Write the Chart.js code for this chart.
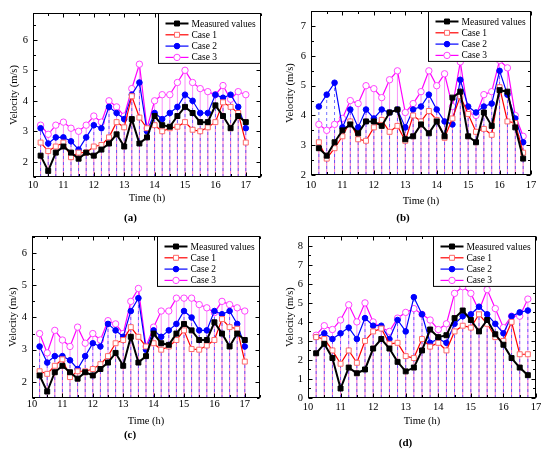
<!DOCTYPE html>
<html><head><meta charset="utf-8">
<script src="https://cdn.jsdelivr.net/npm/chart.js@4.4.0/dist/chart.umd.min.js"></script>
<style>
html,body{margin:0;padding:0;background:#fff;}
#wrap{position:relative;width:550px;height:450px;overflow:hidden;}
canvas{position:absolute;}
</style></head><body>
<div id="wrap">
<canvas id="ca" width="275" height="225" style="left:0;top:0"></canvas>
<canvas id="cb" width="275" height="225" style="left:275px;top:0"></canvas>
<canvas id="cc" width="275" height="225" style="left:0;top:225px"></canvas>
<canvas id="cd" width="275" height="225" style="left:275px;top:225px"></canvas>
</div>
<script>
// ---------- DATA ----------
const seriesNames = ['Measured values', 'Case 1', 'Case 2', 'Case 3'];
const captions = ['(a)', '(b)', '(c)', '(d)'];
const xTitle = 'Time (h)';
const yTitle = 'Velocity (m/s)';

const timeLong  = [10.25,10.5,10.75,11,11.25,11.5,11.75,12,12.25,12.5,12.75,13,13.25,13.5,13.75,14,14.25,14.5,14.75,15,15.25,15.5,15.75,16,16.25,16.5,16.75,17];
const timeShort = [10.25,10.5,10.75,11,11.25,11.5,11.75,12,12.25,12.5,12.75,13,13.25,13.5,13.75,14,14.25,14.5,14.75,15,15.25,15.5,15.75,16,16.25,16.5,16.75];

const measuredA = [2.2,1.7,2.3,2.5,2.3,2.1,2.3,2.2,2.4,2.6,2.9,2.5,3.4,2.6,2.8,3.5,3.2,3.15,3.5,3.8,3.6,3.3,3.3,3.85,3.5,3.1,3.5,3.3];
const case1A    = [2.63,2.35,2.5,2.63,2.15,2.3,2.3,2.5,2.55,2.8,3.3,3.13,4.15,3.45,3.1,3.2,3.0,3.1,3.15,3.3,3.05,3.0,3.13,3.3,3.95,3.8,3.6,2.63];
const case2A    = [3.1,2.6,2.8,2.8,2.67,2.4,2.8,3.2,3.1,3.8,3.6,3.4,4.2,4.6,3.0,3.6,3.4,3.6,3.8,4.2,4.0,3.6,3.6,4.2,4.1,4.2,3.8,3.1];
const case3A    = [3.2,2.9,3.2,3.3,3.1,3.0,3.2,3.5,3.3,4.0,3.8,3.5,4.4,5.2,3.1,4.0,4.2,4.2,4.6,5.0,4.6,4.4,4.3,4.2,4.5,4.05,4.3,4.2];

const measuredB = [2.9,2.65,3.1,3.5,3.7,3.4,3.8,3.8,3.65,4.1,4.2,3.2,3.3,3.7,3.4,3.8,3.3,4.6,4.8,3.3,3.1,4.1,3.65,4.85,4.8,3.6,2.55];
const case1B    = [3.1,2.55,2.9,3.3,3.8,3.2,3.15,3.6,3.85,3.45,3.65,3.15,4.0,3.8,4.15,3.85,3.25,3.9,4.65,4.05,3.45,3.55,3.35,4.95,3.8,3.75,2.75];
const case2B    = [4.3,4.7,5.1,3.6,4.2,3.6,4.2,3.9,4.2,4.1,4.2,3.6,4.2,4.3,4.7,4.2,3.8,3.7,5.2,4.3,4.1,4.3,4.4,5.5,4.7,3.9,3.1];
const case3B    = [3.7,3.5,3.7,3.9,4.5,4.4,5.0,4.9,4.6,5.2,5.5,4.1,4.4,4.8,5.5,5.0,5.4,4.3,5.8,4.1,4.0,4.7,4.8,5.85,5.6,4.0,3.3];

const measuredC = [2.2,1.7,2.3,2.5,2.3,2.1,2.3,2.2,2.4,2.6,2.9,2.5,3.4,2.6,2.8,3.5,3.2,3.15,3.5,3.8,3.6,3.3,3.3,3.85,3.5,3.1,3.5,3.3];
const case1C    = [2.33,2.25,2.5,2.7,2.15,2.33,2.33,2.4,2.55,2.8,3.2,3.3,3.7,3.4,3.1,3.2,3.0,3.1,3.3,3.6,3.02,3.0,3.13,3.3,3.95,3.7,3.65,2.63];
const case2C    = [3.1,2.6,2.8,2.8,2.67,2.4,2.8,3.2,3.1,3.8,3.6,3.4,4.2,4.6,3.0,3.6,3.4,3.6,3.8,4.2,4.0,3.6,3.6,4.2,4.1,4.2,3.8,3.1];
const case3C    = [3.5,2.9,3.6,3.3,3.1,3.7,3.2,3.5,3.3,3.9,3.8,3.5,4.5,4.9,3.1,3.7,4.2,4.2,4.6,4.6,4.6,4.4,4.3,4.15,4.5,4.4,4.3,4.2];

const measuredD = [2.35,2.85,2.1,0.5,1.6,1.3,1.5,2.6,3.1,2.6,1.9,1.4,1.6,2.5,3.6,3.2,3.3,4.2,4.6,4.1,3.5,4.1,3.35,2.8,2.1,1.6,1.2];
const case1D    = [3.2,3.1,2.5,1.8,2.5,1.85,3.0,3.5,3.65,2.85,2.9,2.2,2.1,3.1,2.7,2.9,2.5,3.5,3.8,3.7,4.4,3.9,3.2,3.0,4.0,2.3,2.3];
const case2D    = [3.2,3.4,3.1,3.4,3.7,3.1,4.2,3.8,3.8,3.1,4.1,3.5,5.3,4.4,2.9,3.1,2.9,3.9,4.3,4.4,4.8,4.4,3.9,3.4,4.3,4.5,4.6];
const case3D    = [3.3,3.8,3.6,4.1,4.9,4.0,5.0,4.0,3.7,3.5,4.2,4.5,4.7,4.4,4.1,3.6,3.9,5.5,5.85,5.5,4.6,5.7,4.7,3.7,4.3,4.3,5.2];

// axis ranges per panel
const xRangeA = [10, 17.5], yRangeA = [1.5, 6.88];
const xRangeB = [10, 17],   yRangeB = [2, 7.5];
const xRangeC = [10, 17.5], yRangeC = [1.5, 6.52];
const xRangeD = [10, 17],   yRangeD = [0, 8.5];

// ---------- STYLE / LAYOUT ----------
const FONT = '"Liberation Serif", "Times New Roman", serif';
Chart.defaults.font.family = FONT;
Chart.defaults.font.size = 10.5;
Chart.defaults.color = '#000';

const styles = [
  {borderColor:'#000000', borderWidth:2,   pointStyle:'rect',   pointRadius:3.5, pointBackgroundColor:'#000', pointBorderColor:'#000', pointBorderWidth:1,
   dropColor:null, dropWidth:0, dropDash:[]},
  {borderColor:'#ff0000', borderWidth:1.2, pointStyle:'rect',   pointRadius:3.5, pointBackgroundColor:'#ffffff', pointBorderColor:'#ff6a6a', pointBorderWidth:1,
   dropColor:'rgba(255,60,60,0.35)', dropWidth:0.8, dropDash:[]},
  {borderColor:'#0000ff', borderWidth:1.2, pointStyle:'circle', pointRadius:2.8, pointBackgroundColor:'#0000ff', pointBorderColor:'#0000ff', pointBorderWidth:1,
   dropColor:'rgba(70,70,255,0.85)', dropWidth:0.9, dropDash:[3,3]},
  {borderColor:'#ff00ff', borderWidth:1.2, pointStyle:'circle', pointRadius:3.2, pointBackgroundColor:'#ffffff', pointBorderColor:'#ff44ff', pointBorderWidth:1,
   dropColor:'rgba(245,110,245,0.75)', dropWidth:1, dropDash:[]}
];

const layouts = [
  {l:33, r:261, t:13, b:177, tickY:185,   timeY:198,   capY:219,   yTitleX:14},
  {l:36, r:256, t:7,  b:175, tickY:185,   timeY:201.5, capY:218,   yTitleX:15},
  {l:32, r:260, t:5,  b:173, tickY:179,   timeY:196.7, capY:210,   yTitleX:13.5},
  {l:33, r:261, t:5,  b:173, tickY:182.7, timeY:196.7, capY:219,   yTitleX:15}
];

const panels = [
  {id:'ca', time:timeLong,  series:[measuredA,case1A,case2A,case3A], xr:xRangeA, yr:yRangeA},
  {id:'cb', time:timeShort, series:[measuredB,case1B,case2B,case3B], xr:xRangeB, yr:yRangeB},
  {id:'cc', time:timeLong,  series:[measuredC,case1C,case2C,case3C], xr:xRangeC, yr:yRangeC},
  {id:'cd', time:timeShort, series:[measuredD,case1D,case2D,case3D], xr:xRangeD, yr:yRangeD}
];

function drawMarker(ctx, st, x, y) {
  ctx.save();
  ctx.fillStyle = st.pointBackgroundColor;
  ctx.strokeStyle = st.pointBorderColor;
  ctx.lineWidth = st.pointBorderWidth;
  ctx.setLineDash([]);
  ctx.beginPath();
  if (st.pointStyle === 'rect') {
    const s = Math.SQRT1_2 * st.pointRadius;
    ctx.rect(x - s, y - s, 2*s, 2*s);
  } else {
    ctx.arc(x, y, st.pointRadius, 0, Math.PI*2);
  }
  ctx.fill(); ctx.stroke();
  ctx.restore();
}

const figPlugin = {
  id: 'fig',
  beforeDatasetsDraw(chart) {
    const {ctx, chartArea: a} = chart;
    ctx.save();
    ctx.beginPath(); ctx.rect(a.left, a.top, a.right - a.left, a.bottom - a.top); ctx.clip();
    [3, 1, 0, 2].forEach(di => {
      const ds = chart.data.datasets[di];
      if (!ds.dropColor) return;
      const meta = chart.getDatasetMeta(di);
      ctx.strokeStyle = ds.dropColor; ctx.lineWidth = ds.dropWidth; ctx.setLineDash(ds.dropDash);
      meta.data.forEach(pt => {
        ctx.beginPath(); ctx.moveTo(pt.x, a.bottom); ctx.lineTo(pt.x, pt.y); ctx.stroke();
      });
    });
    ctx.restore();
  },
  afterDraw(chart) {
    const {ctx, chartArea: a} = chart;
    const xs = chart.scales.x, ys = chart.scales.y;
    ctx.save();
    ctx.strokeStyle = '#000'; ctx.lineWidth = 1; ctx.setLineDash([]);
    const L = Math.round(a.left) + 0.5, R = Math.round(a.right) - 0.5, T = Math.round(a.top) + 0.5, B = Math.round(a.bottom) - 0.5;
    ctx.strokeRect(L, T, R - L, B - T);
    // inward ticks (major at integers, minor at halves)
    ctx.beginPath();
    for (let v = Math.ceil(xs.min * 2) / 2; v <= xs.max + 1e-9; v += 0.5) {
      const px = Math.round(xs.getPixelForValue(v)) + 0.5;
      const len = Math.abs(v - Math.round(v)) < 1e-6 ? 4 : 2.5;
      ctx.moveTo(px, B); ctx.lineTo(px, B - len);
      ctx.moveTo(px, T); ctx.lineTo(px, T + len);
    }
    for (let v = Math.ceil(ys.min * 2) / 2; v <= ys.max + 1e-9; v += 0.5) {
      const py = Math.round(ys.getPixelForValue(v)) + 0.5;
      const len = Math.abs(v - Math.round(v)) < 1e-6 ? 4 : 2.5;
      ctx.moveTo(L, py); ctx.lineTo(L + len, py);
      ctx.moveTo(R, py); ctx.lineTo(R - len, py);
    }
    ctx.stroke();
    // legend
    const dsets = chart.data.datasets;
    ctx.font = '9.5px ' + FONT;
    const tw = Math.max(...dsets.map(d => ctx.measureText(d.label).width));
    const padL = 7, sw = 23, gap = 3, padR = 5, rowH = 11.3, padT = 10, padB = 6;
    const w = padL + sw + gap + tw + padR;
    const h = padT + rowH * (dsets.length - 1) + padB;
    const x0 = Math.round(R - w) + 0.5, y0 = T;
    ctx.fillStyle = '#fff';
    ctx.fillRect(x0, y0, R - x0, h);
    ctx.strokeRect(x0, y0, R - x0, h);
    dsets.forEach((d, i) => {
      const y = y0 + padT + i * rowH;
      ctx.strokeStyle = d.borderColor; ctx.lineWidth = d.borderWidth;
      ctx.beginPath(); ctx.moveTo(x0 + padL, y); ctx.lineTo(x0 + padL + sw, y); ctx.stroke();
      drawMarker(ctx, d, x0 + padL + sw / 2, y);
      ctx.fillStyle = '#000'; ctx.textBaseline = 'middle'; ctx.textAlign = 'left';
      ctx.fillText(d.label, x0 + padL + sw + gap, y + 0.5);
    });
    ctx.restore();
  }
};

panels.forEach((p, k) => {
  const lay = layouts[k];
  const capLH = 13.2, axLH = 12.6;
  const capPadB = Math.max(0, 225 - lay.capY - capLH / 2);
  const titleTop = 225 - capLH - capPadB;
  const xAxisH = titleTop - lay.b;
  const xTitlePadB = titleTop - axLH / 2 - lay.timeY;
  const tickPad = Math.max(0, lay.tickY - lay.b - axLH / 2);
  const datasets = p.series.map((vals, i) => Object.assign({
    label: seriesNames[i],
    data: p.time.map((t, j) => ({x: t, y: vals[j]})),
    fill: false, tension: 0, clip: 6
  }, styles[i]));
  new Chart(document.getElementById(p.id), {
    type: 'line',
    data: {datasets},
    options: {
      responsive: false, animation: false, events: [],
      layout: {padding: {left: 0, right: 275 - lay.r, top: lay.t, bottom: 0}},
      plugins: {
        legend: {display: false},
        tooltip: {enabled: false},
        title: {display: true, position: 'bottom', text: captions[k],
                font: {size: 11, weight: 'bold', family: FONT, lineHeight: 1.2},
                padding: {top: 0, bottom: capPadB}, color: '#000'}
      },
      scales: {
        x: {
          type: 'linear', min: p.xr[0], max: p.xr[1],
          grid: {display: false, drawTicks: false}, border: {display: false},
          ticks: {stepSize: 1, includeBounds: false, padding: tickPad, maxRotation: 0, autoSkip: false,
                  font: {size: 10.5, lineHeight: 1.2}},
          title: {display: true, text: xTitle, font: {size: 10.5, lineHeight: 1.2}, padding: {top: 0, bottom: xTitlePadB}},
          afterFit: s => { s.height = xAxisH; }
        },
        y: {
          type: 'linear', min: p.yr[0], max: p.yr[1],
          grid: {display: false, drawTicks: false}, border: {display: false},
          ticks: {stepSize: 1, includeBounds: false, padding: 5, font: {size: 10.5, lineHeight: 1.2}},
          title: {display: true, text: yTitle, font: {size: 10.5, lineHeight: 1.2}, padding: {top: lay.yTitleX - axLH / 2, bottom: 0}},
          afterFit: s => { s.width = lay.l; }
        }
      }
    },
    plugins: [figPlugin]
  });
});
</script>
</body></html>
